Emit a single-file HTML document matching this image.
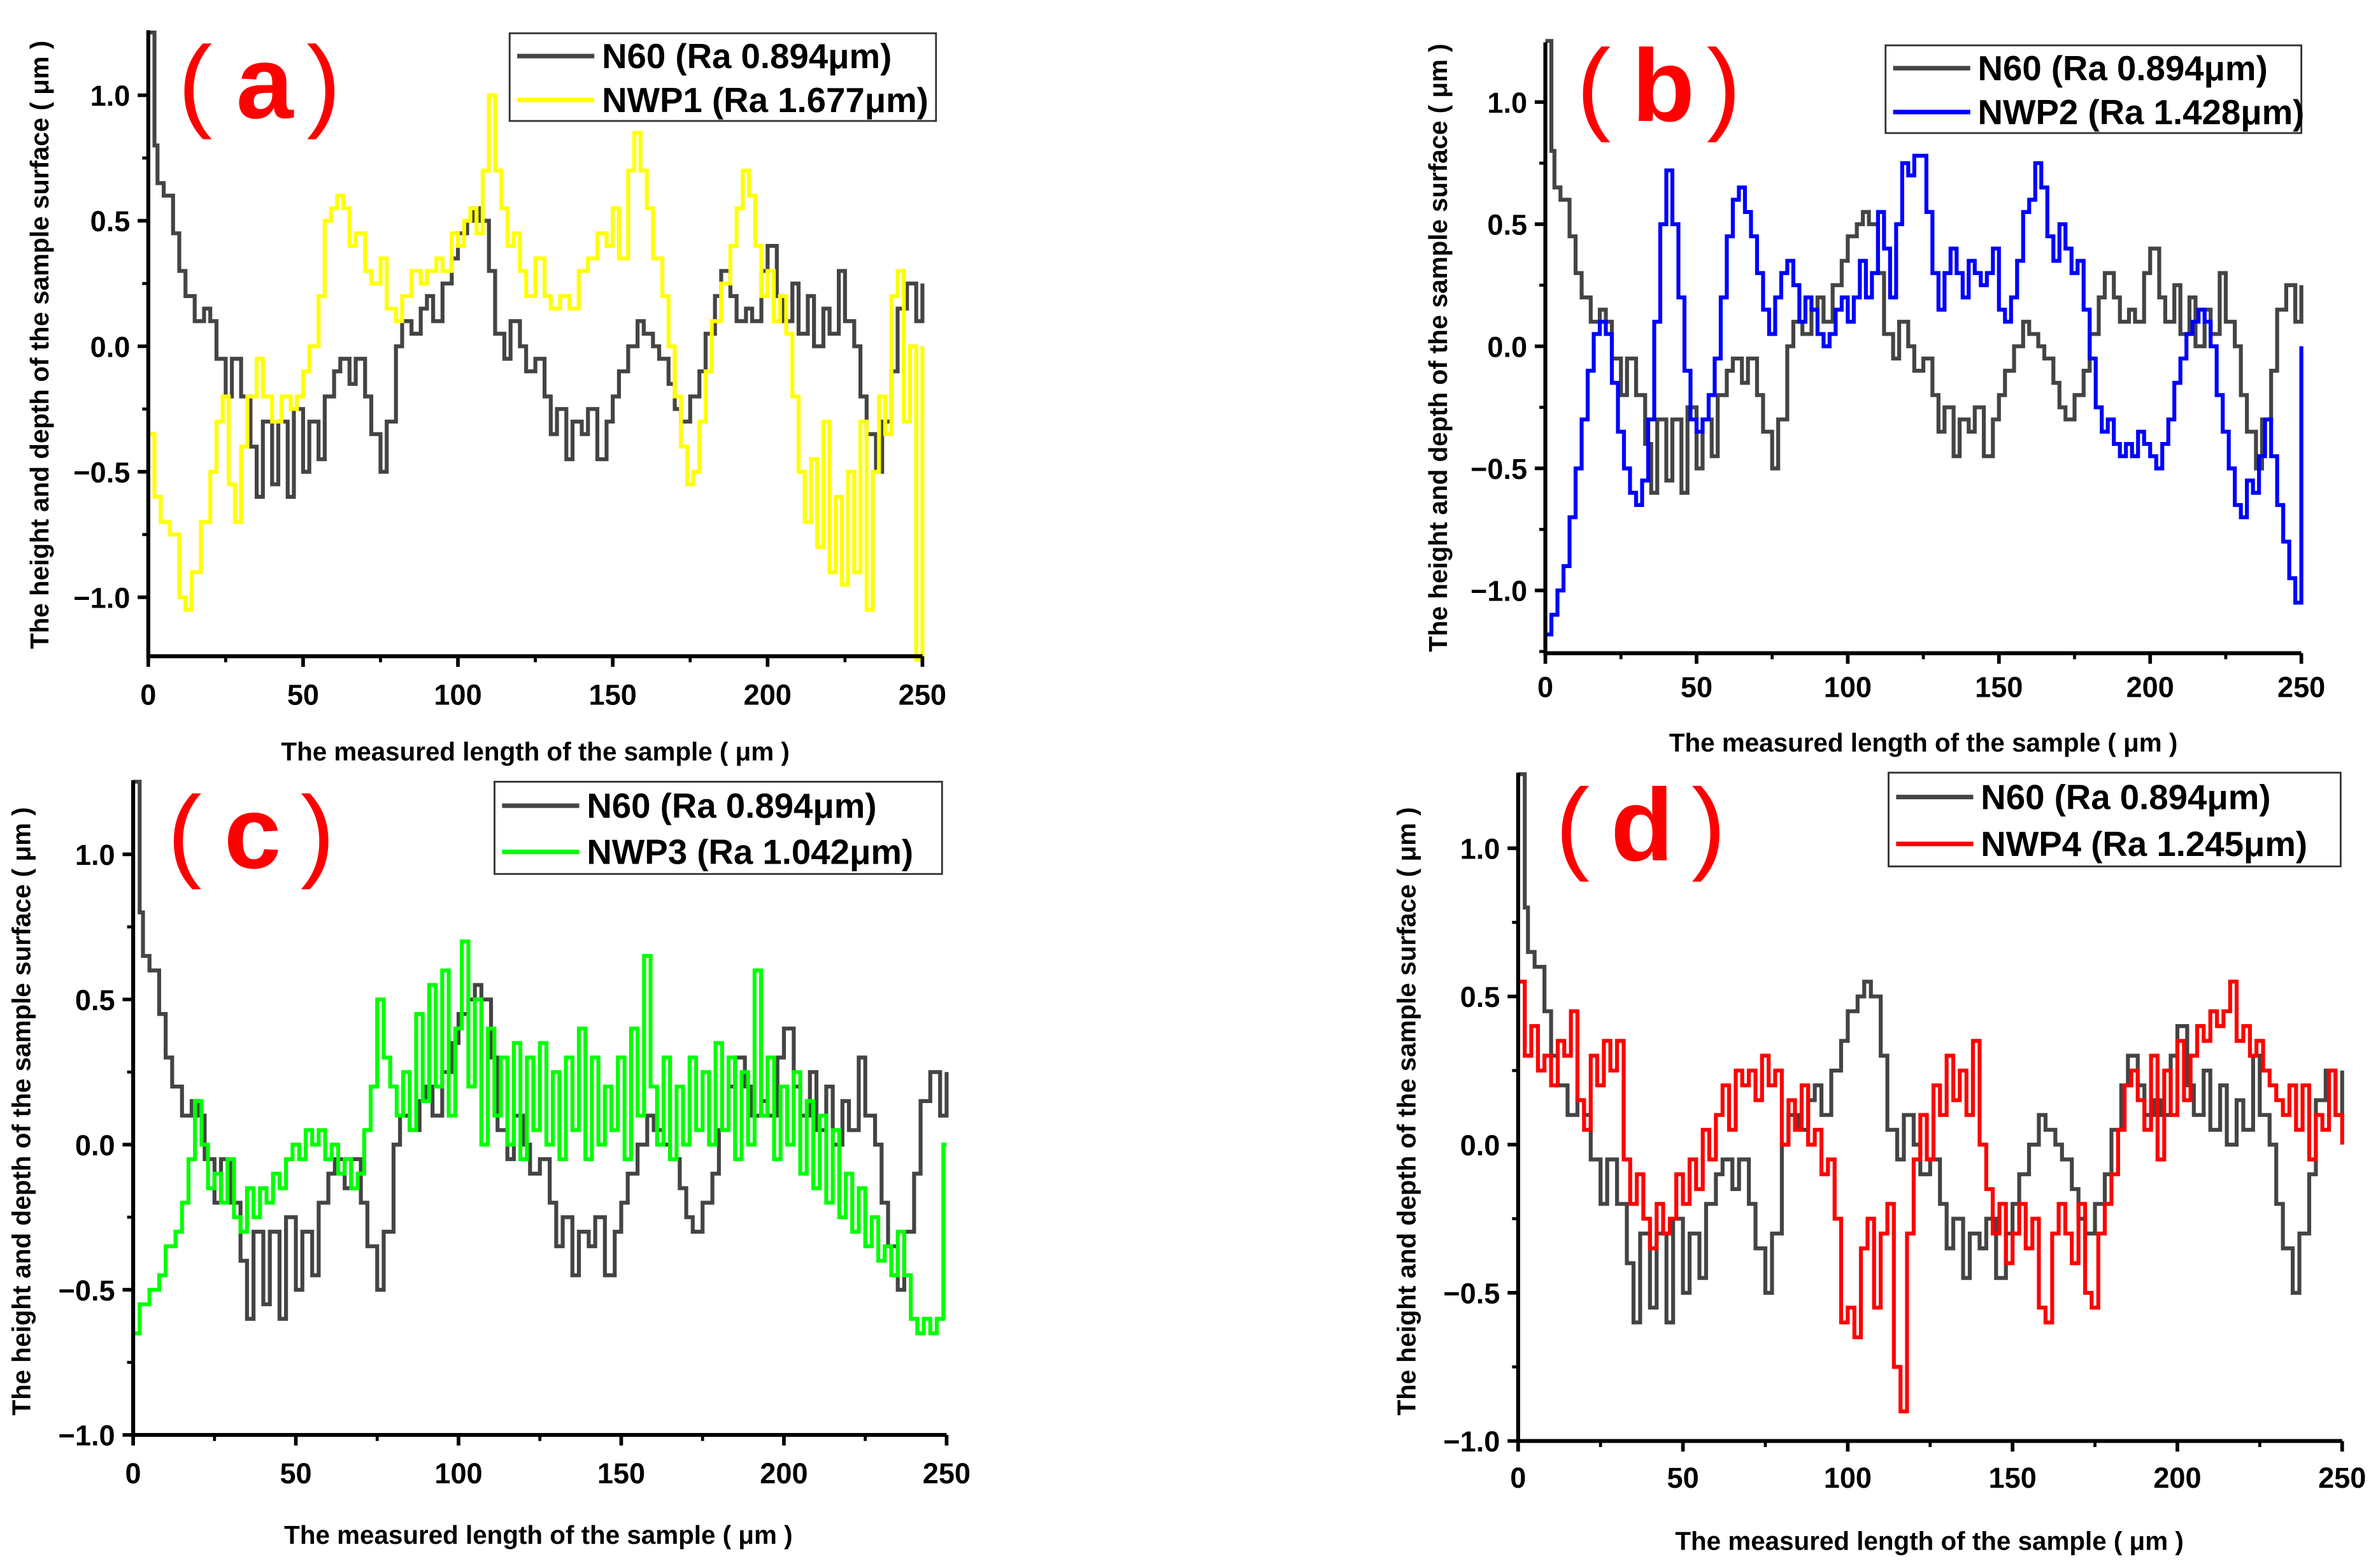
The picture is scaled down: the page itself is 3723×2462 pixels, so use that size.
<!DOCTYPE html>
<html><head><meta charset="utf-8"><style>
html,body{margin:0;padding:0;background:#fff;}
svg{display:block;}
text{font-family:"Liberation Sans",Arial,sans-serif;}
</style></head><body>
<svg id="fig" xmlns="http://www.w3.org/2000/svg" width="3723" height="2462" viewBox="0 0 1568 1037"></svg>
<script>
const xTicks = [0, 50, 100, 150, 200, 250];
const yTicks = [-1.0, -0.5, 0.0, 0.5, 1.0];
const n60X = [0,2,3,5,8,10,12,15,18,20,22,25,27,30,33,35,37,40,42,45,47,50,52,55,57,60,62,65,67,70,72,75,77,80,82,85,88,90,92,95,98,100,103,105,107,110,112,115,117,120,122,125,128,130,132,135,137,140,142,145,148,150,152,155,158,160,163,165,168,170,172,175,178,180,183,185,188,190,193,195,198,200,203,205,208,210,213,215,218,220,223,225,228,230,232,235,237,240,242,245,248,250];
const n60Y = [1.25,0.8,0.65,0.6,0.45,0.3,0.2,0.1,0.15,0.1,-0.05,-0.2,-0.05,-0.2,-0.4,-0.6,-0.3,-0.55,-0.3,-0.6,-0.25,-0.5,-0.3,-0.45,-0.2,-0.1,-0.05,-0.15,-0.05,-0.2,-0.35,-0.5,-0.3,0.0,0.1,0.05,0.15,0.2,0.1,0.25,0.35,0.45,0.5,0.55,0.5,0.3,0.05,-0.05,0.1,0.0,-0.1,-0.05,-0.2,-0.35,-0.25,-0.45,-0.3,-0.35,-0.25,-0.45,-0.3,-0.2,-0.1,0.0,0.1,0.05,0.0,-0.05,-0.15,-0.25,-0.3,-0.2,-0.1,0.05,0.2,0.3,0.2,0.1,0.15,0.1,0.3,0.4,0.2,0.1,0.25,0.05,0.2,0.0,0.15,0.05,0.3,0.1,0.0,-0.2,-0.35,-0.5,-0.3,-0.1,0.15,0.25,0.1,0.25];
const nwp1X = [0,2,4,7,10,12,14,17,20,22,24,26,28,30,32,35,37,40,43,46,48,50,52,55,57,59,61,63,65,67,70,72,75,77,80,82,85,88,90,93,95,98,100,102,104,106,108,110,112,114,116,118,120,122,125,128,130,133,136,139,142,145,148,150,152,155,157,159,161,163,166,168,170,172,174,176,178,180,182,185,188,190,192,194,196,198,200,202,204,206,208,210,212,214,216,218,220,222,224,226,228,230,232,234,236,238,240,242,244,246,248,250];
const nwp1Y = [-0.35,-0.6,-0.7,-0.75,-1.0,-1.05,-0.9,-0.7,-0.5,-0.3,-0.2,-0.55,-0.7,-0.4,-0.2,-0.05,-0.2,-0.3,-0.2,-0.25,-0.2,-0.1,0.0,0.2,0.5,0.55,0.6,0.55,0.4,0.45,0.3,0.25,0.35,0.15,0.1,0.2,0.3,0.25,0.3,0.35,0.3,0.45,0.4,0.5,0.55,0.45,0.7,1.0,0.7,0.55,0.4,0.45,0.3,0.2,0.35,0.2,0.15,0.2,0.15,0.3,0.35,0.45,0.4,0.55,0.35,0.7,0.85,0.7,0.55,0.35,0.2,0.0,-0.2,-0.4,-0.55,-0.5,-0.3,-0.1,0.1,0.25,0.4,0.55,0.7,0.6,0.4,0.2,0.3,0.1,0.2,0.05,-0.2,-0.5,-0.7,-0.45,-0.8,-0.3,-0.9,-0.6,-0.95,-0.5,-0.9,-0.3,-1.05,-0.5,-0.2,-0.35,0.2,0.3,-0.3,0.0,-1.25,0.0];
const nwp2X = [0,2,4,6,8,10,12,14,16,18,20,22,24,26,28,30,32,34,36,38,40,42,44,46,48,50,52,54,56,58,60,62,64,66,68,70,72,74,76,78,80,82,84,86,88,90,92,94,96,98,100,102,104,106,108,110,112,114,116,118,120,122,124,126,128,130,132,134,136,138,140,142,144,146,148,150,152,154,156,158,160,162,164,166,168,170,172,174,176,178,180,182,184,186,188,190,192,194,196,198,200,202,204,206,208,210,212,214,216,218,220,222,224,226,228,230,232,234,236,238,240,242,244,246,248,250];
const nwp2Y = [-1.18,-1.1,-1.0,-0.9,-0.7,-0.5,-0.3,-0.1,0.05,0.1,0.05,-0.15,-0.35,-0.5,-0.6,-0.65,-0.55,-0.3,0.1,0.5,0.72,0.5,0.2,-0.1,-0.3,-0.35,-0.3,-0.2,-0.05,0.2,0.45,0.6,0.65,0.55,0.45,0.3,0.15,0.05,0.2,0.3,0.35,0.25,0.1,0.2,0.15,0.05,0.0,0.05,0.15,0.2,0.1,0.2,0.35,0.2,0.3,0.55,0.4,0.2,0.5,0.75,0.7,0.78,0.78,0.55,0.3,0.15,0.3,0.4,0.3,0.2,0.35,0.3,0.25,0.3,0.4,0.15,0.1,0.2,0.35,0.55,0.6,0.75,0.65,0.45,0.35,0.5,0.4,0.3,0.35,0.15,-0.05,-0.25,-0.35,-0.3,-0.4,-0.45,-0.4,-0.45,-0.35,-0.4,-0.45,-0.5,-0.4,-0.3,-0.15,-0.05,0.05,0.1,0.15,0.1,0.0,-0.2,-0.35,-0.5,-0.65,-0.7,-0.55,-0.6,-0.45,-0.3,-0.45,-0.65,-0.8,-0.95,-1.05,0.0];
const nwp3X = [0,2,5,8,10,13,15,17,19,21,23,25,27,29,31,33,35,37,39,41,43,45,47,49,51,53,55,57,59,61,63,65,67,69,71,73,75,77,79,81,83,85,87,89,91,93,95,97,99,101,103,105,107,109,111,113,115,117,119,121,123,125,127,129,131,133,135,137,139,141,143,145,147,149,151,153,155,157,159,161,163,165,167,169,171,173,175,177,179,181,183,185,187,189,191,193,195,197,199,201,203,205,207,209,211,213,215,217,219,221,223,225,227,229,231,233,235,237,239,241,243,245,247,249,250];
const nwp3Y = [-0.65,-0.55,-0.5,-0.45,-0.35,-0.3,-0.2,-0.05,0.15,0.0,-0.15,-0.1,-0.2,-0.05,-0.25,-0.3,-0.15,-0.25,-0.15,-0.2,-0.1,-0.15,-0.05,0.0,-0.05,0.05,0.0,0.05,-0.05,0.0,-0.1,-0.05,-0.15,-0.1,0.05,0.2,0.5,0.3,0.2,0.1,0.25,0.05,0.45,0.15,0.55,0.2,0.6,0.1,0.4,0.7,0.2,0.5,0.0,0.4,0.1,0.3,0.0,0.35,-0.05,0.3,0.05,0.35,0.0,0.25,-0.05,0.3,0.05,0.4,-0.05,0.3,0.0,0.2,0.05,0.3,-0.05,0.4,0.1,0.65,0.2,0.0,0.3,-0.05,0.2,0.0,0.3,0.05,0.25,0.0,0.35,0.05,0.3,-0.05,0.25,0.0,0.6,0.1,0.3,-0.05,0.2,0.0,0.25,-0.1,0.15,-0.15,0.1,-0.2,0.05,-0.25,-0.1,-0.3,-0.15,-0.35,-0.25,-0.4,-0.35,-0.45,-0.3,-0.45,-0.6,-0.65,-0.6,-0.65,-0.6,0.0,0.0];
const nwp4X = [0,2,4,6,8,10,12,14,16,18,20,22,24,26,28,30,32,34,36,38,40,42,44,46,48,50,52,54,56,58,60,62,64,66,68,70,72,74,76,78,80,82,84,86,88,90,92,94,96,98,100,102,104,106,108,110,112,114,116,118,120,122,124,126,128,130,132,134,136,138,140,142,144,146,148,150,152,154,156,158,160,162,164,166,168,170,172,174,176,178,180,182,184,186,188,190,192,194,196,198,200,202,204,206,208,210,212,214,216,218,220,222,224,226,228,230,232,234,236,238,240,242,244,246,248,250];
const nwp4Y = [0.55,0.3,0.4,0.25,0.3,0.2,0.35,0.3,0.45,0.15,0.05,0.3,0.2,0.35,0.25,0.35,-0.05,-0.2,-0.1,-0.25,-0.35,-0.2,-0.3,-0.25,-0.1,-0.2,-0.05,-0.15,0.05,-0.05,0.1,0.2,0.05,0.25,0.2,0.25,0.15,0.3,0.2,0.25,0.0,0.15,0.05,0.2,0.0,0.05,-0.1,-0.05,-0.25,-0.6,-0.55,-0.65,-0.35,-0.25,-0.55,-0.3,-0.2,-0.75,-0.9,-0.3,-0.05,0.1,-0.05,0.2,0.1,0.3,0.15,0.25,0.1,0.35,0.0,-0.15,-0.3,-0.2,-0.4,-0.3,-0.2,-0.35,-0.25,-0.55,-0.6,-0.3,-0.2,-0.3,-0.4,-0.2,-0.5,-0.55,-0.3,-0.2,-0.1,0.05,0.2,0.25,0.15,0.05,0.3,-0.05,0.25,0.1,0.35,0.15,0.3,0.4,0.35,0.45,0.4,0.45,0.55,0.35,0.4,0.3,0.35,0.25,0.2,0.15,0.1,0.2,0.05,0.2,-0.05,0.1,0.05,0.25,0.1,0.0];

const NS = "http://www.w3.org/2000/svg";
const svg = document.getElementById('fig');
function mk(tag, attrs, parent) {
  const e = document.createElementNS(NS, tag);
  for (const k in attrs) e.setAttribute(k, attrs[k]);
  (parent || svg).appendChild(e);
  return e;
}
const panels = [
  {id:'a', L:98, R:610, y0:229, ypx:166, B:434, T:20, xs:nwp1X, ys:nwp1Y, col:'#ffff00', name:'NWP1 (Ra 1.677μm)',
   lab:[129,175,214,78], leg:[337,22,282,58], ytitle:[32,228], xtitle:[354,503], xtick:466},
  {id:'b', L:1022, R:1522, y0:229, ypx:161.5, B:432, T:28, xs:nwp2X, ys:nwp2Y, col:'#0000ff', name:'NWP2 (Ra 1.428μm)',
   lab:[1054,1100,1140,80], leg:[1247,30,275,58], ytitle:[957,230], xtitle:[1272,497], xtick:461},
  {id:'c', L:88, R:626, y0:757, ypx:192, B:949, T:516, xs:nwp3X, ys:nwp3Y, col:'#00ff00', name:'NWP3 (Ra 1.042μm)',
   lab:[122,167,210,574], leg:[327,517,296,61], ytitle:[20,735], xtitle:[356,1021], xtick:981},
  {id:'d', L:1004, R:1549, y0:757, ypx:196, B:953, T:511, xs:nwp4X, ys:nwp4Y, col:'#ff0000', name:'NWP4 (Ra 1.245μm)',
   lab:[1040,1086,1130,569], leg:[1249,511,299,62], ytitle:[936,735], xtitle:[1276,1025], xtick:984}
];
function stepPath(xs, ys, sx, sy) {
  let d = '';
  for (let i = 0; i < xs.length; i++) {
    const x = sx(xs[i]), y = sy(ys[i]);
    if (i === 0) d += 'M' + x.toFixed(1) + ' ' + y.toFixed(1);
    else d += 'H' + x.toFixed(1) + 'V' + y.toFixed(1);
  }
  return d;
}
panels.forEach(p => {
  const g = mk('g', {});
  
  
  const sx = v => p.L + (v / 250) * (p.R - p.L);
  const sy = v => p.y0 - v * p.ypx;
  const s1 = mk('path', {d: stepPath(n60X, n60Y, sx, sy), fill:'none', stroke:'#444444', 'stroke-width':2.6}, g);
  
  
  const s2 = mk('path', {d: stepPath(p.xs, p.ys, sx, sy), fill:'none', stroke:p.col, 'stroke-width':2.6}, g);
  
  
  const ax = mk('path', {d:`M${p.L} ${p.T}V${p.B}H${p.R}`, fill:'none', stroke:'#000', 'stroke-width':2.6}, g);
  
  
  xTicks.forEach(t => {
    mk('line', {x1:sx(t), x2:sx(t), y1:p.B, y2:p.B+7, stroke:'#000','stroke-width':2.4}, g);
    if (t < 250) mk('line', {x1:sx(t+25), x2:sx(t+25), y1:p.B, y2:p.B+4, stroke:'#000','stroke-width':2}, g);
    const tx = mk('text', {x:sx(t), y:p.xtick, 'text-anchor':'middle', 'font-size':19, 'font-weight':'bold'}, g);
    tx.textContent = String(t);
    
    
  });
  const minorY = [-1.25, -0.75, -0.25, 0.25, 0.75];
  yTicks.forEach(t => {
    mk('line', {x1:p.L-7, x2:p.L, y1:sy(t), y2:sy(t), stroke:'#000','stroke-width':2.4}, g);
    const tx = mk('text', {x:p.L-12, y:sy(t)+7, 'text-anchor':'end', 'font-size':19, 'font-weight':'bold'}, g);
    tx.textContent = (t < 0 ? '\u2212' : '') + Math.abs(t).toFixed(1);
    
    
  });
  minorY.forEach(t => {
    const y = sy(t);
    if (y >= p.T && y <= p.B) mk('line', {x1:p.L-4, x2:p.L, y1:y, y2:y, stroke:'#000','stroke-width':2}, g);
  });
  const yt = mk('text', {x:0, y:0, 'text-anchor':'middle', 'font-size':17, 'font-weight':'bold',
    transform:`translate(${p.ytitle[0]},${p.ytitle[1]}) rotate(-90)`}, g);
  yt.textContent = 'The height and depth of the sample surface ( μm )';
  
  
  const xt = mk('text', {x:p.xtitle[0], y:p.xtitle[1], 'text-anchor':'middle', 'font-size':17, 'font-weight':'bold'}, g);
  xt.textContent = 'The measured length of the sample ( μm )';
  
  
  // panel label: thin parens + bold letter
  const lb = mk('text', {x:0, y:p.lab[3], 'font-size':68, fill:'#ff0000', 'text-anchor':'middle'}, g);
  
  
  const t1 = mk('tspan', {x:p.lab[0], 'font-weight':'normal'}, lb); t1.textContent = '(';
  const t2 = mk('tspan', {x:p.lab[1], 'font-weight':'bold'}, lb); t2.textContent = p.id;
  const t3 = mk('tspan', {x:p.lab[2], 'font-weight':'normal'}, lb); t3.textContent = ')';
  const lg = mk('g', {}, g);
  
  
  const [lx, ly, lw, lh] = p.leg;
  mk('rect', {x:lx, y:ly, width:lw, height:lh, fill:'#fff', stroke:'#333', 'stroke-width':1.2}, lg);
  const rows = [['N60 (Ra 0.894μm)', '#444444'], [p.name, p.col]];
  rows.forEach((r, i) => {
    const cy = ly + lh * (i === 0 ? 0.26 : 0.76);
    mk('line', {x1:lx+5, x2:lx+56, y1:cy, y2:cy, stroke:r[1], 'stroke-width':3}, lg);
    const t = mk('text', {x:lx+61, y:cy+8, 'font-size':23, 'font-weight':'bold'}, lg);
    t.textContent = r[0];
    
    
  });
});
</script>
</body></html>
